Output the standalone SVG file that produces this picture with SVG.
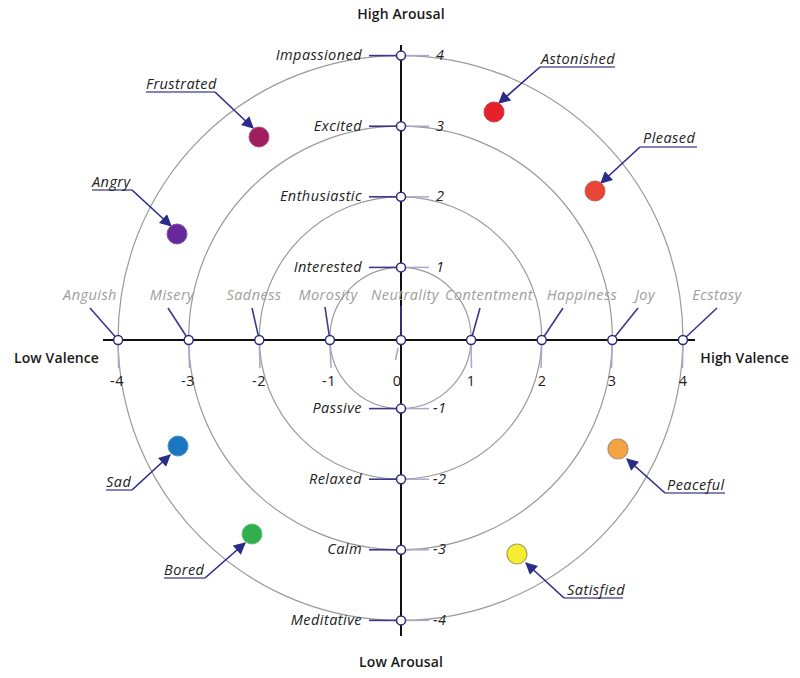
<svg xmlns="http://www.w3.org/2000/svg" width="800" height="678" viewBox="0 0 800 678">
<style>
.ring{fill:none;stroke:#9a9a9a;stroke-width:1.2}
.axis{stroke:#111;stroke-width:2}
.lead{stroke:#3a3a8c;stroke-width:1.6;fill:none}
.lite{stroke:#a8a8cc;stroke-width:1.5;fill:none}
.pt{fill:#fff;stroke:#2a2a7e;stroke-width:1.5}
text{font-family:"Open Sans",sans-serif;font-size:14.5px;letter-spacing:0.45px}
.vl{font-style:italic;fill:#222;text-anchor:end}
.vn{font-style:italic;fill:#222}
.hl{font-style:italic;fill:#9e9e9e;text-anchor:middle}
.hn{fill:#222;text-anchor:middle}
.ax{font-weight:600;font-size:14px;fill:#1a1a1a;letter-spacing:0.1px}
.cl{font-style:italic;fill:#222}
.ul{stroke:#5c5c9c;stroke-width:1.5;fill:none}
.arr{stroke:#2b2b88;stroke-width:1.6;fill:none;marker-end:url(#ah)}
</style>
<defs>
<marker id="ah" viewBox="0 0 10 10" refX="9" refY="5" markerWidth="13" markerHeight="12" markerUnits="userSpaceOnUse" orient="auto">
<path d="M0,0 L10,5 L0,10 z" fill="#2b2b88"/>
</marker>
</defs>
<rect width="800" height="678" fill="#fff"/>
<g id="rings">
<circle class="ring" cx="400.5" cy="338" r="70.6"/>
<circle class="ring" cx="400.5" cy="338" r="141.2"/>
<circle class="ring" cx="400.5" cy="338" r="211.8"/>
<circle class="ring" cx="400.5" cy="338" r="282.4"/>
</g>
<g id="connectors">
<line class="axis" x1="103" y1="340" x2="695" y2="340"/>
<line class="axis" x1="401" y1="45" x2="401" y2="636"/>
<line class="lead" x1="369" y1="55.6" x2="397" y2="55.6"/>
<line class="lite" x1="405" y1="55.6" x2="429" y2="55.6"/>
<line class="lead" x1="369" y1="126.2" x2="397" y2="126.2"/>
<line class="lite" x1="405" y1="126.2" x2="429" y2="126.2"/>
<line class="lead" x1="369" y1="196.8" x2="397" y2="196.8"/>
<line class="lite" x1="405" y1="196.8" x2="429" y2="196.8"/>
<line class="lead" x1="369" y1="267.4" x2="397" y2="267.4"/>
<line class="lite" x1="405" y1="267.4" x2="429" y2="267.4"/>
<line class="lead" x1="369" y1="408.6" x2="397" y2="408.6"/>
<line class="lite" x1="405" y1="408.6" x2="429" y2="408.6"/>
<line class="lead" x1="369" y1="479.2" x2="397" y2="479.2"/>
<line class="lite" x1="405" y1="479.2" x2="429" y2="479.2"/>
<line class="lead" x1="369" y1="549.8" x2="397" y2="549.8"/>
<line class="lite" x1="405" y1="549.8" x2="429" y2="549.8"/>
<line class="lead" x1="369" y1="620.4" x2="397" y2="620.4"/>
<line class="lite" x1="405" y1="620.4" x2="429" y2="620.4"/>
<line class="lead" x1="90" y1="308" x2="118.1" y2="340"/>
<line class="lite" x1="118.1" y1="344" x2="118.6" y2="368"/>
<line class="lead" x1="168" y1="308" x2="188.7" y2="340"/>
<line class="lite" x1="188.7" y1="344" x2="189.5" y2="368"/>
<line class="lead" x1="252" y1="308" x2="259.3" y2="340"/>
<line class="lite" x1="259.3" y1="344" x2="260" y2="368"/>
<line class="lead" x1="325" y1="307" x2="329.9" y2="340"/>
<line class="lite" x1="329.9" y1="344" x2="331" y2="368"/>
<line class="lead" x1="401" y1="306" x2="401" y2="340"/>
<line class="lite" x1="398" y1="348" x2="395.5" y2="360"/>
<line class="lead" x1="480" y1="308" x2="471.1" y2="340"/>
<line class="lite" x1="471.1" y1="344" x2="471.5" y2="368"/>
<line class="lead" x1="563" y1="308" x2="541.7" y2="340"/>
<line class="lite" x1="541.7" y1="344" x2="541" y2="368"/>
<line class="lead" x1="638" y1="308" x2="612.3" y2="340"/>
<line class="lite" x1="612.3" y1="344" x2="611.5" y2="368"/>
<line class="lead" x1="717" y1="308" x2="682.9" y2="340"/>
<line class="lite" x1="682.9" y1="344" x2="682.5" y2="368"/>
<polyline class="ul" points="615,67 540,67"/>
<line class="arr" x1="540" y1="67" x2="499" y2="103"/>
<polyline class="ul" points="697,147 640,147"/>
<line class="arr" x1="640" y1="147" x2="601" y2="183"/>
<polyline class="ul" points="146,92 215,92"/>
<line class="arr" x1="215" y1="92" x2="253" y2="128"/>
<polyline class="ul" points="92,190 132,190"/>
<line class="arr" x1="132" y1="190" x2="171" y2="226"/>
<polyline class="ul" points="106,490 132,490"/>
<line class="arr" x1="132" y1="490" x2="170" y2="455"/>
<polyline class="ul" points="164,578 205,578"/>
<line class="arr" x1="205" y1="578" x2="245" y2="543"/>
<polyline class="ul" points="725,493 665,493"/>
<line class="arr" x1="665" y1="493" x2="627" y2="459"/>
<polyline class="ul" points="623,598 564,598"/>
<line class="arr" x1="564" y1="598" x2="526" y2="563"/>
</g>
<g id="points">
<circle class="pt" cx="401" cy="55.6" r="4.5"/>
<circle class="pt" cx="401" cy="126.2" r="4.5"/>
<circle class="pt" cx="401" cy="196.8" r="4.5"/>
<circle class="pt" cx="401" cy="267.4" r="4.5"/>
<circle class="pt" cx="401" cy="408.6" r="4.5"/>
<circle class="pt" cx="401" cy="479.2" r="4.5"/>
<circle class="pt" cx="401" cy="549.8" r="4.5"/>
<circle class="pt" cx="401" cy="620.4" r="4.5"/>
<circle class="pt" cx="118.1" cy="340" r="4.5"/>
<circle class="pt" cx="188.7" cy="340" r="4.5"/>
<circle class="pt" cx="259.3" cy="340" r="4.5"/>
<circle class="pt" cx="329.9" cy="340" r="4.5"/>
<circle class="pt" cx="401" cy="340" r="4.5"/>
<circle class="pt" cx="471.1" cy="340" r="4.5"/>
<circle class="pt" cx="541.7" cy="340" r="4.5"/>
<circle class="pt" cx="612.3" cy="340" r="4.5"/>
<circle class="pt" cx="682.9" cy="340" r="4.5"/>
</g>
<g id="vertical-labels">
<text class="vl" x="362" y="60">Impassioned</text>
<text class="vl" x="362" y="131">Excited</text>
<text class="vl" x="362" y="201">Enthusiastic</text>
<text class="vl" x="362" y="272">Interested</text>
<text class="vl" x="362" y="413">Passive</text>
<text class="vl" x="362" y="484">Relaxed</text>
<text class="vl" x="362" y="554">Calm</text>
<text class="vl" x="362" y="625">Meditative</text>
<text class="vn" x="436" y="60">4</text>
<text class="vn" x="436" y="131">3</text>
<text class="vn" x="436" y="201">2</text>
<text class="vn" x="436" y="272">1</text>
<text class="vn" x="433" y="413">-1</text>
<text class="vn" x="433" y="484">-2</text>
<text class="vn" x="433" y="554">-3</text>
<text class="vn" x="433" y="625">-4</text>
</g>
<g id="horizontal-labels">
<text class="hl" x="90" y="300">Anguish</text>
<text class="hl" x="172" y="300">Misery</text>
<text class="hl" x="254" y="300">Sadness</text>
<text class="hl" x="328" y="300">Morosity</text>
<text class="hl" x="405" y="300">Neutrality</text>
<text class="hl" x="489" y="300">Contentment</text>
<text class="hl" x="582" y="300">Happiness</text>
<text class="hl" x="645" y="300">Joy</text>
<text class="hl" x="717" y="300">Ecstasy</text>
<text class="hn" x="117" y="386">-4</text>
<text class="hn" x="188" y="386">-3</text>
<text class="hn" x="259" y="386">-2</text>
<text class="hn" x="329" y="386">-1</text>
<text class="hn" x="397" y="386">0</text>
<text class="hn" x="471" y="386">1</text>
<text class="hn" x="542" y="386">2</text>
<text class="hn" x="612" y="386">3</text>
<text class="hn" x="683" y="386">4</text>
</g>
<g id="axis-titles">
<text class="ax" x="401" y="19" text-anchor="middle">High Arousal</text>
<text class="ax" x="401" y="667" text-anchor="middle">Low Arousal</text>
<text class="ax" x="14" y="363">Low Valence</text>
<text class="ax" x="789" y="363" text-anchor="end">High Valence</text>
</g>
<g id="astonished"><circle cx="494" cy="112" r="10" fill="#e8202a" stroke="#c84048" stroke-width="1"/><text class="cl" x="541" y="64">Astonished</text></g>
<g id="pleased"><circle cx="595" cy="191" r="10" fill="#e84535" stroke="#c06060" stroke-width="1"/><text class="cl" x="643" y="143">Pleased</text></g>
<g id="frustrated"><circle cx="259" cy="137" r="10" fill="#a01e5e" stroke="#b05080" stroke-width="1"/><text class="cl" x="146" y="89">Frustrated</text></g>
<g id="angry"><circle cx="177" cy="234" r="10" fill="#66289a" stroke="#8050b0" stroke-width="1"/><text class="cl" x="92" y="187">Angry</text></g>
<g id="sad"><circle cx="178" cy="446" r="10" fill="#1a76c0" stroke="#4a90c8" stroke-width="1"/><text class="cl" x="106" y="487">Sad</text></g>
<g id="bored"><circle cx="252" cy="534" r="10" fill="#30b04c" stroke="#60c070" stroke-width="1"/><text class="cl" x="164" y="575">Bored</text></g>
<g id="peaceful"><circle cx="618" cy="449" r="10" fill="#f5a240" stroke="#b09070" stroke-width="1.2"/><text class="cl" x="667" y="490">Peaceful</text></g>
<g id="satisfied"><circle cx="517" cy="554" r="10" fill="#f5ee30" stroke="#a8a060" stroke-width="1.2"/><text class="cl" x="567" y="595">Satisfied</text></g>
</svg>
